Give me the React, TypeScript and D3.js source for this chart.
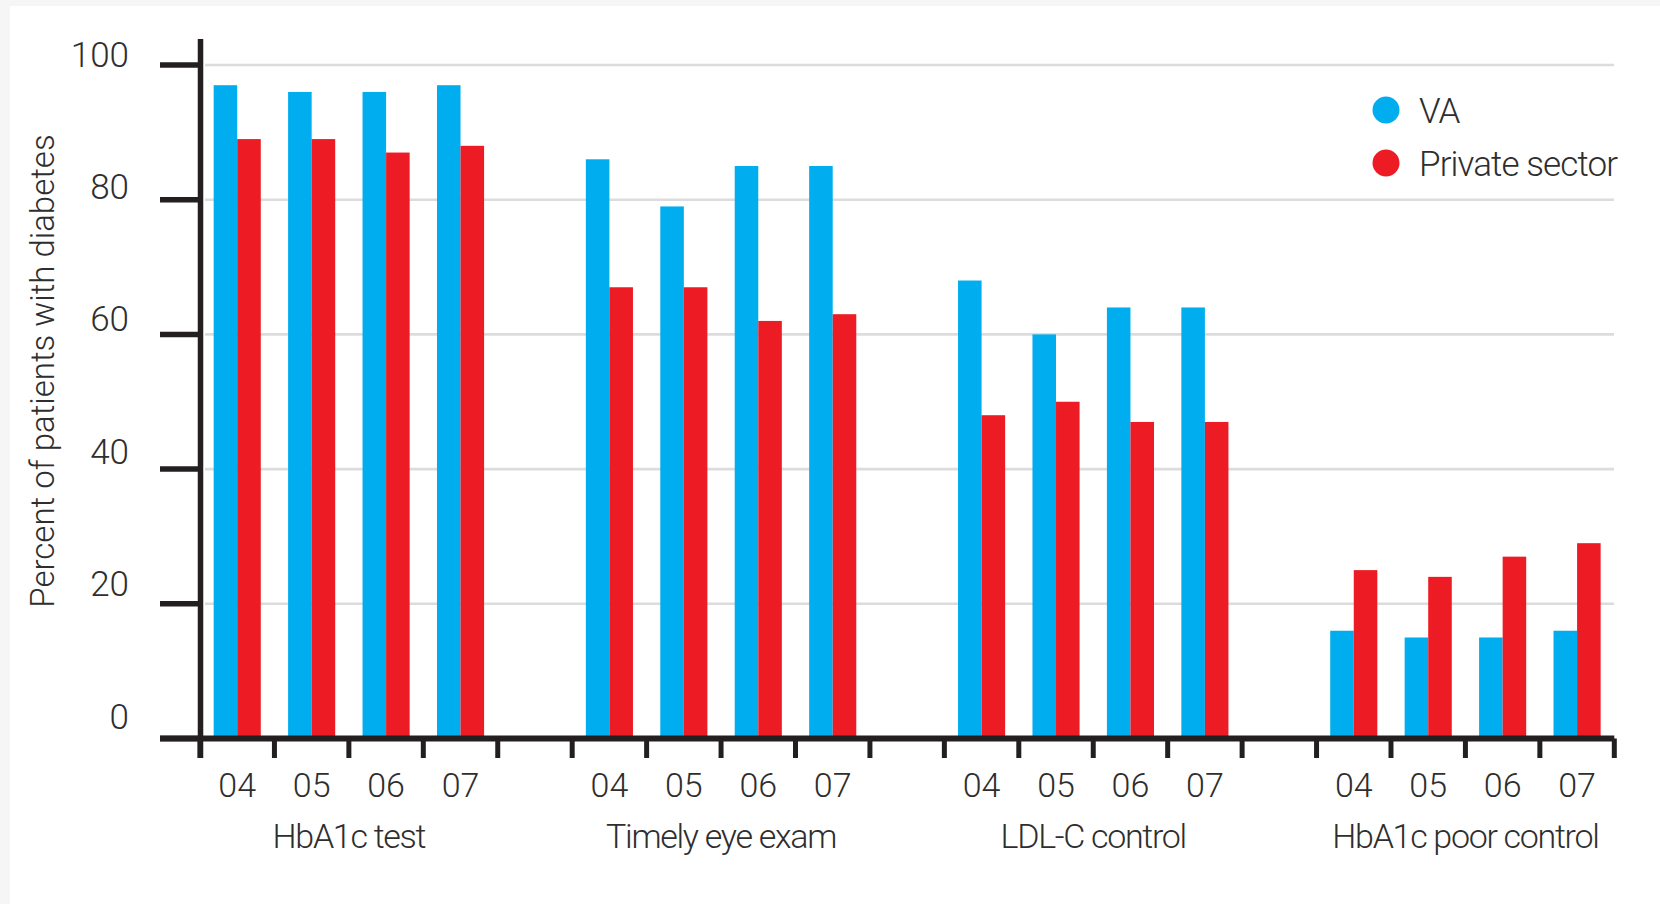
import * as d3 from "d3";

const groups = ["HbA1c test", "Timely eye exam", "LDL-C control", "HbA1c poor control"];
const years = ["04", "05", "06", "07"];
const seriesNames = ["VA", "Private sector"];
const seriesColors = ["#00aeef", "#ed1c24"];

// values per group, one entry per year
const vaValues = [
  [97, 96, 96, 97],
  [86, 79, 85, 85],
  [68, 60, 64, 64],
  [16, 15, 15, 16],
];
const privateValues = [
  [89, 89, 87, 88],
  [67, 67, 62, 63],
  [48, 50, 47, 47],
  [25, 24, 27, 29],
];
const yTicks = [0, 20, 40, 60, 80, 100];

const W = 1660;
const H = 904;
const FONT = "Roboto, 'Liberation Sans', sans-serif";
const INK = "#231f20";
const TEXT = "#2e2e2e";

export default function App() {
  // 4 groups of 4 years, with one empty slot between groups
  const slotCount = groups.length * years.length + groups.length - 1;
  const slotIdx = (g: number, i: number) => g * (years.length + 1) + i;

  const x = d3
    .scaleBand<number>()
    .domain(d3.range(slotCount))
    .range([200, 1614.3])
    .padding(0);
  const step = x.step();
  const inner = d3
    .scaleBand<number>()
    .domain([0, 1])
    .range([0, step])
    .paddingInner(0)
    .paddingOuter(0.58);

  const y = d3.scaleLinear().domain([0, 100]).range([738.5, 65]);
  // tick labels sit on a slightly tighter spacing than the ticks
  const yLabel = d3.scaleLinear().domain([0, 100]).range([728.5, 66.5]);

  const bars = groups.flatMap((g, gi) =>
    years.flatMap((yr, yi) =>
      [vaValues[gi][yi], privateValues[gi][yi]].map((v, si) => ({
        key: `${g}-${yr}-${si}`,
        x: (x(slotIdx(gi, yi)) ?? 0) + (inner(si) ?? 0),
        w: inner.bandwidth(),
        v,
        color: seriesColors[si],
      })),
    ),
  );

  const tickXs = d3.range(slotCount + 1).map((i) => 200 + i * step);
  const axisY = y(0);

  return (
    <div style={{ position: "fixed", left: 0, top: 0 }}>
      <svg width={W} height={H} style={{ display: "block" }} fontFamily={FONT}>
        <rect width={W} height={H} fill="#f6f6f6" />
        <rect x={10} y={6} width={W - 10} height={H - 6} fill="#ffffff" />

        {/* gridlines */}
        {yTicks
          .filter((t) => t > 0)
          .map((t) => (
            <line
              key={`g${t}`}
              x1={205}
              x2={1614}
              y1={y(t)}
              y2={y(t)}
              stroke="#dcdcdc"
              strokeWidth={2.6}
            />
          ))}

        {/* bars */}
        {bars.map((b) => (
          <rect
            key={b.key}
            x={b.x}
            y={y(b.v)}
            width={b.w}
            height={axisY - y(b.v)}
            fill={b.color}
          />
        ))}

        {/* y axis */}
        <line x1={200.5} x2={200.5} y1={39} y2={758} stroke={INK} strokeWidth={5.5} />
        {yTicks.map((t) => (
          <g key={`y${t}`}>
            <line x1={160} x2={200} y1={y(t)} y2={y(t)} stroke={INK} strokeWidth={5.5} />
            <text
              x={129}
              y={yLabel(t)}
              textAnchor="end"
              fontSize={35}
              fontWeight={300}
              fill={TEXT}
            >
              {t}
            </text>
          </g>
        ))}
        <text
          transform="translate(54,371) rotate(-90)"
          textAnchor="middle"
          fontSize={33}
          fontWeight={300}
          fill={TEXT}
        >
          Percent of patients with diabetes
        </text>

        {/* x axis */}
        <line x1={160} x2={1614.3} y1={axisY} y2={axisY} stroke={INK} strokeWidth={6} />
        {tickXs.map((tx, i) => (
          <line
            key={`xt${i}`}
            x1={tx}
            x2={tx}
            y1={axisY}
            y2={758}
            stroke={INK}
            strokeWidth={5}
          />
        ))}
        {groups.map((g, gi) => (
          <g key={g}>
            {years.map((yr, yi) => (
              <text
                key={yr}
                x={(x(slotIdx(gi, yi)) ?? 0) + step / 2}
                y={797}
                textAnchor="middle"
                fontSize={34}
                fontWeight={300}
                fill={TEXT}
              >
                {yr}
              </text>
            ))}
            <text
              x={((x(slotIdx(gi, 0)) ?? 0) + (x(slotIdx(gi, years.length - 1)) ?? 0) + step) / 2}
              y={848}
              textAnchor="middle"
              fontSize={34}
              fontWeight={300}
              letterSpacing={-1.3}
              fill={TEXT}
            >
              {g}
            </text>
          </g>
        ))}

        {/* legend */}
        {seriesNames.map((name, i) => (
          <g key={name} transform={`translate(1386,${110 + i * 53})`}>
            <circle r={13.5} fill={seriesColors[i]} />
            <text
              x={33}
              y={12.5}
              fontSize={35}
              fontWeight={300}
              letterSpacing={-0.9}
              fill={TEXT}
            >
              {name}
            </text>
          </g>
        ))}
      </svg>
    </div>
  );
}
